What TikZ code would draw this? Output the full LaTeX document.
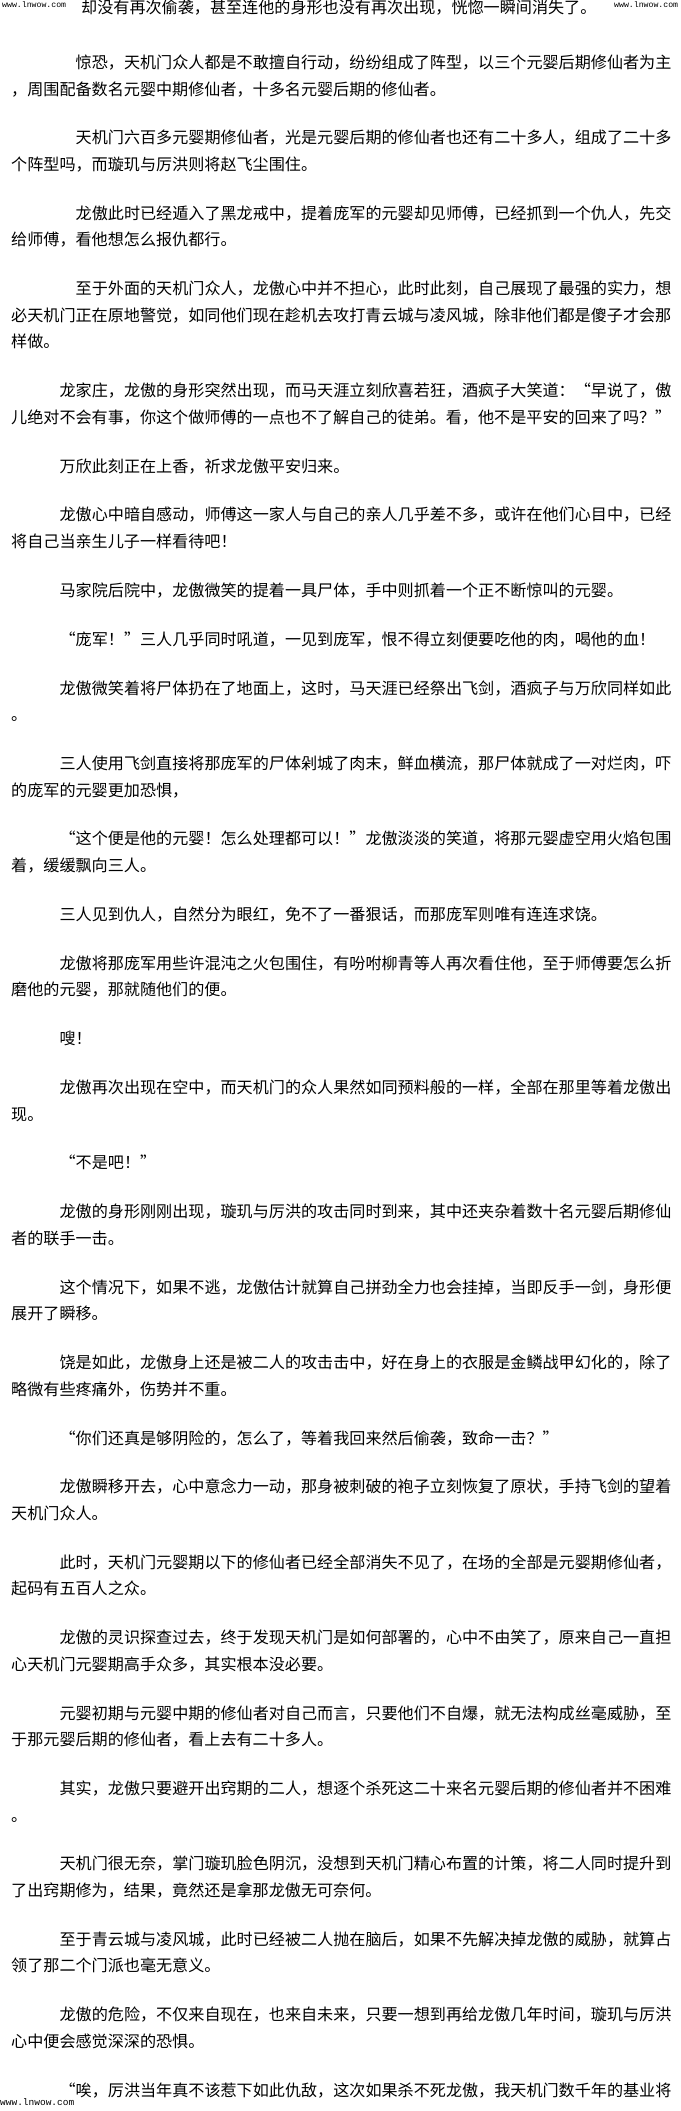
\documentclass[tikz,border=0pt]{standalone}
\usepackage{fontspec}
\newfontfamily\cjk{Noto Sans CJK SC}
\newfontfamily\wmfont{Liberation Mono}
\newlength\cw
\setlength\cw{16.1pt}
\makeatletter
\newcommand\gridline[1]{\grid@loop#1\grid@end}
\def\grid@end{\grid@end}
\def\grid@loop#1{\ifx#1\grid@end\else\makebox[\cw]{#1}\expandafter\grid@loop\fi}
\makeatother

\begin{document}
\begin{tikzpicture}[x=1pt,y=-1pt,
    line/.style={anchor=west,inner sep=0pt,text height=14.2pt,text depth=1.9pt,font=\cjk\fontsize{16.1pt}{16.1pt}\selectfont},
    wm node/.style={anchor=west,inner sep=0pt,font=\wmfont\fontsize{8.2pt}{8.2pt}\selectfont}]
    \useasboundingbox (0,0) rectangle (680,2111);
    \fill[white] (0,0) rectangle (680,2111);

    \node[wm node] (w1) at (2,5) {www.lnwow.com};
    \node[wm node] (w2) at (614,5) {www.lnwow.com};
    \node[wm node,font=\wmfont\fontsize{9.5pt}{9.5pt}\selectfont] (w3) at (0,2102) {www.lnwow.com};

    \node[line] (1) at (81,7) {\gridline{却没有再次偷袭，甚至连他的身形也没有再次出现，恍惚一瞬间消失了。}};
    \node[line] (2) at (75.5,62) {\gridline{惊恐，天机门众人都是不敢擅自行动，纷纷组成了阵型，以三个元婴后期修仙者为主}};
    \node[line] (3) at (11,89) {\gridline{，周围配备数名元婴中期修仙者，十多名元婴后期的修仙者。}};
    \node[line] (4) at (75.5,137) {\gridline{天机门六百多元婴期修仙者，光是元婴后期的修仙者也还有二十多人，组成了二十多}};
    \node[line] (5) at (11,164) {\gridline{个阵型吗，而璇玑与厉洪则将赵飞尘围住。}};
    \node[line] (6) at (75.5,213) {\gridline{龙傲此时已经遁入了黑龙戒中，提着庞军的元婴却见师傅，已经抓到一个仇人，先交}};
    \node[line] (7) at (11,239) {\gridline{给师傅，看他想怎么报仇都行。}};
    \node[line] (8) at (75.5,288) {\gridline{至于外面的天机门众人，龙傲心中并不担心，此时此刻，自己展现了最强的实力，想}};
    \node[line] (9) at (11,315) {\gridline{必天机门正在原地警觉，如同他们现在趁机去攻打青云城与凌风城，除非他们都是傻子才会那}};
    \node[line] (10) at (11,341) {\gridline{样做。}};
    \node[line] (11) at (59.4,390) {\gridline{龙家庄，龙傲的身形突然出现，而马天涯立刻欣喜若狂，酒疯子大笑道：“早说了，傲}};
    \node[line] (12) at (11,417) {\gridline{儿绝对不会有事，你这个做师傅的一点也不了解自己的徒弟。看，他不是平安的回来了吗？”}};
    \node[line] (13) at (59.4,466) {\gridline{万欣此刻正在上香，祈求龙傲平安归来。}};
    \node[line] (14) at (59.4,514) {\gridline{龙傲心中暗自感动，师傅这一家人与自己的亲人几乎差不多，或许在他们心目中，已经}};
    \node[line] (15) at (11,541) {\gridline{将自己当亲生儿子一样看待吧！}};
    \node[line] (16) at (59.4,590) {\gridline{马家院后院中，龙傲微笑的提着一具尸体，手中则抓着一个正不断惊叫的元婴。}};
    \node[line] (17) at (59.4,639) {\gridline{“庞军！”三人几乎同时吼道，一见到庞军，恨不得立刻便要吃他的肉，喝他的血！}};
    \node[line] (18) at (59.4,688) {\gridline{龙傲微笑着将尸体扔在了地面上，这时，马天涯已经祭出飞剑，酒疯子与万欣同样如此}};
    \node[line] (19) at (11,714) {\gridline{。}};
    \node[line] (20) at (59.4,763) {\gridline{三人使用飞剑直接将那庞军的尸体剁城了肉末，鲜血横流，那尸体就成了一对烂肉，吓}};
    \node[line] (21) at (11,790) {\gridline{的庞军的元婴更加恐惧，}};
    \node[line] (22) at (59.4,838) {\gridline{“这个便是他的元婴！怎么处理都可以！”龙傲淡淡的笑道，将那元婴虚空用火焰包围}};
    \node[line] (23) at (11,865) {\gridline{着，缓缓飘向三人。}};
    \node[line] (24) at (59.4,914) {\gridline{三人见到仇人，自然分为眼红，免不了一番狠话，而那庞军则唯有连连求饶。}};
    \node[line] (25) at (59.4,963) {\gridline{龙傲将那庞军用些许混沌之火包围住，有吩咐柳青等人再次看住他，至于师傅要怎么折}};
    \node[line] (26) at (11,989) {\gridline{磨他的元婴，那就随他们的便。}};
    \node[line] (27) at (59.4,1038) {\gridline{嗖！}};
    \node[line] (28) at (59.4,1087) {\gridline{龙傲再次出现在空中，而天机门的众人果然如同预料般的一样，全部在那里等着龙傲出}};
    \node[line] (29) at (11,1114) {\gridline{现。}};
    \node[line] (30) at (59.4,1162) {\gridline{“不是吧！”}};
    \node[line] (31) at (59.4,1211) {\gridline{龙傲的身形刚刚出现，璇玑与厉洪的攻击同时到来，其中还夹杂着数十名元婴后期修仙}};
    \node[line] (32) at (11,1238) {\gridline{者的联手一击。}};
    \node[line] (33) at (59.4,1287) {\gridline{这个情况下，如果不逃，龙傲估计就算自己拼劲全力也会挂掉，当即反手一剑，身形便}};
    \node[line] (34) at (11,1313) {\gridline{展开了瞬移。}};
    \node[line] (35) at (59.4,1362) {\gridline{饶是如此，龙傲身上还是被二人的攻击击中，好在身上的衣服是金鳞战甲幻化的，除了}};
    \node[line] (36) at (11,1389) {\gridline{略微有些疼痛外，伤势并不重。}};
    \node[line] (37) at (59.4,1438) {\gridline{“你们还真是够阴险的，怎么了，等着我回来然后偷袭，致命一击？”}};
    \node[line] (38) at (59.4,1486) {\gridline{龙傲瞬移开去，心中意念力一动，那身被刺破的袍子立刻恢复了原状，手持飞剑的望着}};
    \node[line] (39) at (11,1513) {\gridline{天机门众人。}};
    \node[line] (40) at (59.4,1562) {\gridline{此时，天机门元婴期以下的修仙者已经全部消失不见了，在场的全部是元婴期修仙者，}};
    \node[line] (41) at (11,1588) {\gridline{起码有五百人之众。}};
    \node[line] (42) at (59.4,1637) {\gridline{龙傲的灵识探查过去，终于发现天机门是如何部署的，心中不由笑了，原来自己一直担}};
    \node[line] (43) at (11,1664) {\gridline{心天机门元婴期高手众多，其实根本没必要。}};
    \node[line] (44) at (59.4,1713) {\gridline{元婴初期与元婴中期的修仙者对自己而言，只要他们不自爆，就无法构成丝毫威胁，至}};
    \node[line] (45) at (11,1739) {\gridline{于那元婴后期的修仙者，看上去有二十多人。}};
    \node[line] (46) at (59.4,1788) {\gridline{其实，龙傲只要避开出窍期的二人，想逐个杀死这二十来名元婴后期的修仙者并不困难}};
    \node[line] (47) at (11,1815) {\gridline{。}};
    \node[line] (48) at (59.4,1863) {\gridline{天机门很无奈，掌门璇玑脸色阴沉，没想到天机门精心布置的计策，将二人同时提升到}};
    \node[line] (49) at (11,1890) {\gridline{了出窍期修为，结果，竟然还是拿那龙傲无可奈何。}};
    \node[line] (50) at (59.4,1939) {\gridline{至于青云城与凌风城，此时已经被二人抛在脑后，如果不先解决掉龙傲的威胁，就算占}};
    \node[line] (51) at (11,1965) {\gridline{领了那二个门派也毫无意义。}};
    \node[line] (52) at (59.4,2014) {\gridline{龙傲的危险，不仅来自现在，也来自未来，只要一想到再给龙傲几年时间，璇玑与厉洪}};
    \node[line] (53) at (11,2041) {\gridline{心中便会感觉深深的恐惧。}};
    \node[line] (54) at (59.4,2090) {\gridline{“唉，厉洪当年真不该惹下如此仇敌，这次如果杀不死龙傲，我天机门数千年的基业将}};
\end{tikzpicture}
\end{document}
